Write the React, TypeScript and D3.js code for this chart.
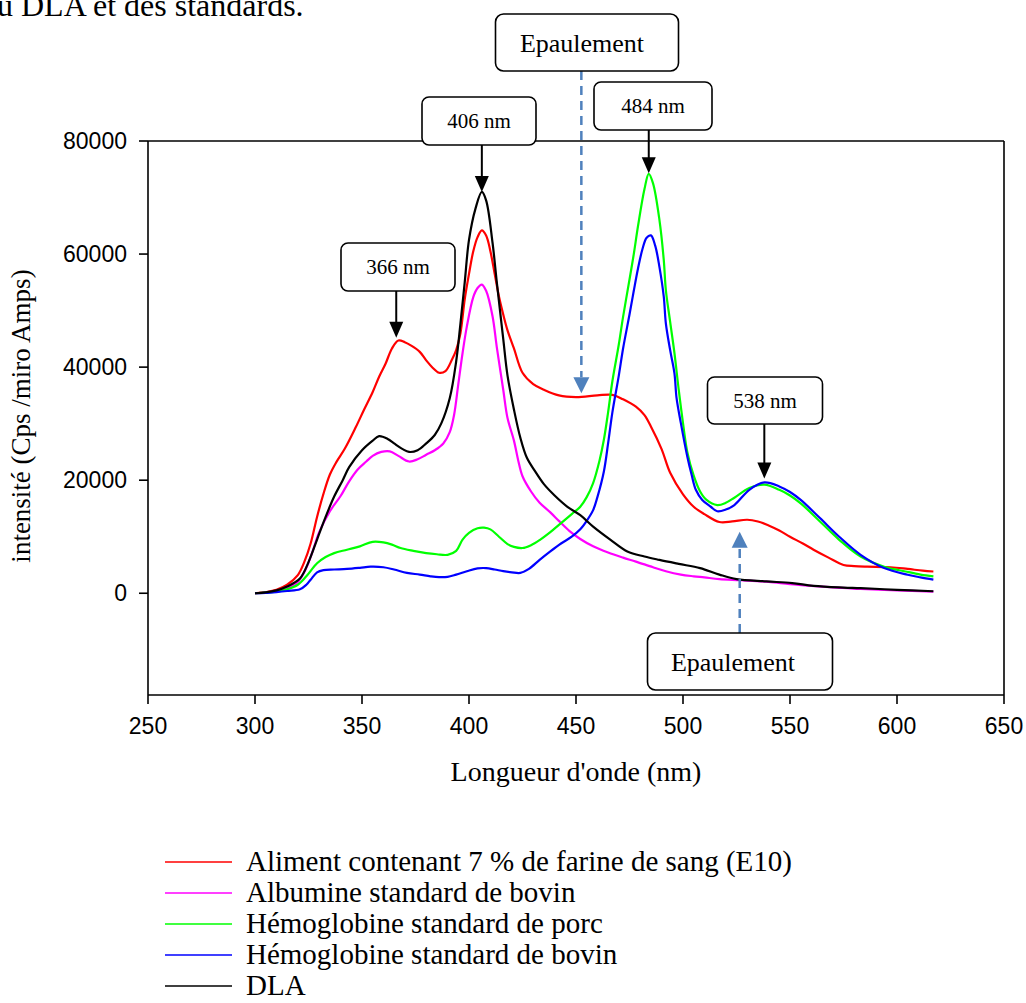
import React from "react";
import * as d3 from "d3";

type Pt = [number, number];

// Spectra: [wavelength (nm), intensity]
const alimentE10: Pt[] = [
  [300, 0], [305, 200], [310, 600], [315, 1500], [320, 3200], [323, 5500], [326, 8800], [329, 13500],
  [332, 17600], [335, 21000], [338, 23200], [342, 25600], [347, 29300], [351, 32500], [355, 35600],
  [358, 38300], [361, 40600], [364, 43300], [367, 44700], [370, 44400], [373, 43800], [377, 42700],
  [380, 41200], [383, 39900], [386, 39000], [389, 39300], [392, 41300], [394, 43000], [396, 46000],
  [398, 52000], [400, 56500], [402, 60500], [404, 63000], [406, 64200], [408, 63300], [410, 60500],
  [412, 56500], [414, 52500], [416, 49300], [418, 46500], [421, 43300], [425, 39000], [430, 37000],
  [435, 36000], [442, 35000], [450, 34700], [460, 35000], [467, 35100], [472, 34300], [478, 33000],
  [482, 31500], [485, 29500], [490, 25500], [494, 21300], [500, 17500], [505, 15300], [510, 14000],
  [517, 12600], [523, 12700], [530, 13000], [535, 12700], [540, 12000], [545, 11100], [550, 10000],
  [556, 8800], [561, 7700], [568, 6300], [575, 5000], [580, 4800], [586, 4700], [597, 4600],
  [605, 4300], [612, 4000], [617, 3850],
];

const albumineBovin: Pt[] = [
  [300, 0], [305, 100], [310, 350], [315, 900], [320, 2000], [324, 4500], [327, 7500], [330, 10800],
  [335, 14500], [340, 17200], [344, 19800], [348, 21900], [352, 23300], [355, 24300], [359, 25000],
  [363, 25100], [367, 24300], [372, 23300], [376, 23700], [380, 24500], [384, 25300], [388, 26500],
  [391, 28500], [393, 31500], [395, 37000], [397, 42500], [399, 47200], [402, 52400], [404, 54000],
  [406, 54600], [408, 53500], [411, 49000], [413, 43500], [416, 36000], [418, 31000], [421, 27000],
  [423, 23500], [425, 20700], [429, 18000], [433, 16000], [438, 14300], [442, 12800], [447, 11000],
  [452, 9600], [458, 8300], [465, 7200], [472, 6300], [478, 5600], [486, 4600], [492, 3900],
  [499, 3300], [505, 3000], [510, 2800], [517, 2500], [527, 2300], [540, 2000], [550, 1600],
  [560, 1300], [572, 1000], [583, 750], [600, 500], [617, 300],
];

const hemoglobinePorc: Pt[] = [
  [300, 0], [305, 100], [310, 300], [315, 700], [320, 1500], [324, 3000], [329, 5300], [333, 6400],
  [337, 7100], [343, 7700], [349, 8300], [355, 9100], [360, 9000], [364, 8600], [368, 8000],
  [374, 7500], [380, 7100], [385, 6900], [390, 6800], [394, 7500], [397, 9500], [400, 10700],
  [404, 11500], [407, 11600], [410, 11300], [414, 10000], [418, 8700], [421, 8200], [425, 8000],
  [429, 8500], [433, 9400], [438, 10800], [443, 12400], [448, 14000], [452, 15300], [455, 17000],
  [458, 19500], [461, 23500], [463, 27100], [465, 32000], [467, 37500], [470, 44000], [472, 48900],
  [475, 55500], [477, 60000], [479, 65000], [482, 71500], [484, 74200], [486, 72500], [489, 66000],
  [491, 59000], [492, 53600], [494, 48000], [496, 42500], [498, 36000], [500, 30100], [502, 25000],
  [505, 20800], [508, 18000], [511, 16500], [516, 15600], [520, 16000], [524, 16900], [531, 18600],
  [538, 19200], [545, 18300], [550, 17300], [555, 15900], [564, 12700], [573, 9450], [583, 6500],
  [594, 4700], [604, 3850], [611, 3300], [617, 2970],
];

const hemoglobineBovin: Pt[] = [
  [300, 0], [305, 50], [310, 200], [315, 400], [321, 700], [324, 1500], [326, 2400], [329, 3700],
  [332, 4100], [337, 4200], [343, 4300], [349, 4500], [354, 4700], [360, 4600], [365, 4200],
  [371, 3600], [377, 3300], [382, 3000], [386, 2850], [390, 2900], [394, 3300], [399, 3900],
  [404, 4400], [408, 4450], [412, 4200], [416, 3900], [420, 3700], [424, 3600], [428, 4300],
  [433, 5900], [438, 7400], [443, 8800], [448, 10000], [452, 11300], [455, 12800], [458, 14700],
  [460, 17000], [463, 21500], [465, 26500], [467, 32000], [470, 38500], [472, 43300], [475, 49300],
  [477, 53500], [479, 57500], [481, 60800], [483, 62900], [485, 63300], [487, 61500], [489, 57700],
  [491, 52500], [492, 47700], [494, 43000], [496, 38900], [497, 34500], [499, 30100], [502, 24200],
  [504, 21000], [506, 18300], [509, 16500], [513, 15300], [516, 14500], [520, 14800], [524, 15600],
  [531, 18300], [538, 19600], [545, 18900], [550, 17900], [555, 16500], [564, 13300], [573, 10000],
  [583, 6800], [594, 4450], [605, 3270], [611, 2800], [617, 2400],
];

const dla: Pt[] = [
  [300, 0], [305, 150], [310, 500], [315, 1200], [321, 2600], [325, 5500], [329, 9500], [333, 13500],
  [337, 17100], [341, 20000], [344, 22300], [350, 25300], [355, 27000], [358, 27800], [362, 27300],
  [365, 26500], [369, 25500], [372, 25000], [376, 25300], [380, 26500], [384, 28000], [387, 30000],
  [391, 34500], [394, 41000], [396, 47700], [398, 55000], [400, 62500], [403, 68000], [406, 71000],
  [408, 69500], [411, 62000], [413, 55000], [416, 45000], [418, 38500], [421, 32500], [424, 27500],
  [427, 24000], [431, 21500], [435, 19300], [440, 17300], [446, 15300], [452, 13800], [458, 11800],
  [466, 9500], [474, 7400], [482, 6500], [489, 5900], [498, 5200], [508, 4450], [517, 3300],
  [525, 2500], [539, 2100], [551, 1800], [561, 1300], [575, 1000], [583, 900], [600, 600], [617, 350],
];

const seriesNames = [
  "Aliment contenant 7 % de farine de sang (E10)",
  "Albumine standard de bovin",
  "Hémoglobine standard de porc",
  "Hémoglobine standard de bovin",
  "DLA",
];
const seriesColors = ["#ff0000", "#ff00ff", "#00ff00", "#0000ff", "#000000"];
const seriesData = [alimentE10, albumineBovin, hemoglobinePorc, hemoglobineBovin, dla];

const xTicks = [250, 300, 350, 400, 450, 500, 550, 600, 650];
const yTicks = [0, 20000, 40000, 60000, 80000];

// Peak callouts: label, wavelength, intensity at arrow tip
const peakLabels = ["366 nm", "406 nm", "484 nm", "538 nm"];
const peakNm = [366, 406, 484, 538];
const peakTip = [45200, 71000, 74300, 20300];

// Shoulder callouts
const shoulderNm = [452.5, 526.5];
const shoulderTip = [35400, 10900];

const W = 1026;
const H = 1003;
const left = 148, right = 1004, top = 141, bottom = 695;

const serif = "'Liberation Serif', 'Times New Roman', serif";
const sans = "'Liberation Sans', Arial, sans-serif";

export default function App() {
  const x = d3.scaleLinear().domain([250, 650]).range([left, right]);
  const y = d3.scaleLinear().domain([-18000, 80000]).range([bottom, top]);
  const line = d3
    .line<Pt>()
    .x((d) => x(d[0]))
    .y((d) => y(d[1]))
    .curve(d3.curveCatmullRom.alpha(0.5));

  // callout box geometry per peak label
  const peakBoxes = [
    { cx: 398, top: 243, w: 114, h: 48 },
    { cx: 479, top: 97, w: 114, h: 48 },
    { cx: 653, top: 82, w: 118, h: 48 },
    { cx: 765, top: 377, w: 115, h: 47 },
  ];
  const shoulderBoxes = [
    { cx: 587, top: 14, w: 183, h: 57, textX: 582, dir: "down" },
    { cx: 740, top: 633, w: 185, h: 57, textX: 733, dir: "up" },
  ];
  const blue = "#4f81bd";

  return (
    <svg
      width={W}
      height={H}
      style={{ position: "absolute", left: 0, top: 0, background: "#fff" }}
    >
      <rect x={0} y={0} width={W} height={H} fill="#fff" />
      <text x={-3} y={16} fontFamily={serif} fontSize={32} fill="#000">
        u DLA et des standards.
      </text>

      {/* frame */}
      <g stroke="#000" strokeWidth={1.6} fill="none">
        <line x1={left} y1={top} x2={right} y2={top} />
        <line x1={right} y1={top} x2={right} y2={bottom} />
        <line x1={left} y1={top} x2={left} y2={bottom} />
        <line x1={left} y1={bottom} x2={right} y2={bottom} />
        {xTicks.map((t) => (
          <line key={"xt" + t} x1={x(t)} x2={x(t)} y1={bottom} y2={bottom + 9} />
        ))}
        {yTicks.map((t) => (
          <line key={"yt" + t} x1={left - 9} x2={left} y1={y(t)} y2={y(t)} />
        ))}
      </g>
      {xTicks.map((t) => (
        <text
          key={"xl" + t}
          x={x(t)}
          y={734}
          textAnchor="middle"
          fontFamily={sans}
          fontSize={23}
          fill="#000"
        >
          {t}
        </text>
      ))}
      {yTicks.map((t) => (
        <text
          key={"yl" + t}
          x={127}
          y={y(t) + 8}
          textAnchor="end"
          fontFamily={sans}
          fontSize={23}
          fill="#000"
        >
          {t}
        </text>
      ))}

      <text x={576} y={781} textAnchor="middle" fontFamily={serif} fontSize={28} fill="#000">
        Longueur d'onde (nm)
      </text>
      <text
        transform={`translate(30,416) rotate(-90)`}
        textAnchor="middle"
        fontFamily={serif}
        fontSize={27}
        fill="#000"
      >
        intensité (Cps /miro Amps)
      </text>

      {/* spectra */}
      <g fill="none" strokeWidth={2.2} strokeLinejoin="round">
        {seriesData.map((s, i) => (
          <path key={"s" + i} d={line(s) || ""} stroke={seriesColors[i]} />
        ))}
      </g>

      {/* peak callouts */}
      {peakLabels.map((lab, i) => {
        const b = peakBoxes[i];
        const ax = x(peakNm[i]);
        const tipY = y(peakTip[i]);
        return (
          <g key={"pk" + i}>
            <line x1={ax} x2={ax} y1={b.top + b.h} y2={tipY - 14} stroke="#000" strokeWidth={2} />
            <path d={`M${ax - 7},${tipY - 16} L${ax + 7},${tipY - 16} L${ax},${tipY} Z`} fill="#000" />
            <rect
              x={b.cx - b.w / 2}
              y={b.top}
              width={b.w}
              height={b.h}
              rx={7}
              fill="#fff"
              stroke="#000"
              strokeWidth={1.6}
            />
            <text
              x={b.cx}
              y={b.top + b.h / 2 + 7}
              textAnchor="middle"
              fontFamily={serif}
              fontSize={21}
              fill="#000"
            >
              {lab}
            </text>
          </g>
        );
      })}

      {/* shoulder callouts */}
      {shoulderBoxes.map((b, i) => {
        const ax = x(shoulderNm[i]);
        const tipY = y(shoulderTip[i]);
        const down = b.dir === "down";
        const startY = down ? b.top + b.h : b.top;
        const headBase = down ? tipY - 16 : tipY + 16;
        return (
          <g key={"sh" + i}>
            <line
              x1={ax}
              x2={ax}
              y1={startY}
              y2={headBase}
              stroke={blue}
              strokeWidth={2.5}
              strokeDasharray="9,6"
            />
            <path
              d={`M${ax - 8},${headBase} L${ax + 8},${headBase} L${ax},${tipY} Z`}
              fill={blue}
            />
            <rect
              x={b.cx - b.w / 2}
              y={b.top}
              width={b.w}
              height={b.h}
              rx={8}
              fill="#fff"
              stroke="#000"
              strokeWidth={1.6}
            />
            <text
              x={b.textX}
              y={b.top + b.h / 2 + 9}
              textAnchor="middle"
              fontFamily={serif}
              fontSize={26}
              fill="#000"
            >
              Epaulement
            </text>
          </g>
        );
      })}

      {/* legend */}
      {seriesNames.map((name, i) => {
        const ly = 862 + i * 31;
        return (
          <g key={"lg" + i}>
            <line x1={165} x2={232} y1={ly} y2={ly} stroke={seriesColors[i]} strokeWidth={1.6} />
            <text x={246} y={ly + 9} fontFamily={serif} fontSize={29} fill="#000">
              {name}
            </text>
          </g>
        );
      })}
    </svg>
  );
}
